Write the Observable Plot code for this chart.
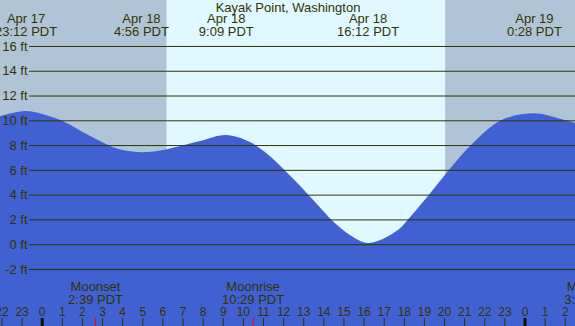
<!DOCTYPE html>
<html><head><meta charset="utf-8">
<script src="https://cdn.jsdelivr.net/npm/d3@7"></script>
<script src="https://cdn.jsdelivr.net/npm/@observablehq/plot@0.6"></script>
<style>
html,body{margin:0;padding:0;background:#fff;overflow:hidden}
#chart svg{display:block}
</style></head><body><div id="chart"></div>
<script>
const title = "Kayak Point, Washington";

// Tide curve: hours since Apr 18 00:00 PDT, height in feet
const tideHours = [-2.09, -0.8, 0.40, 1.24, 2.04, 2.89, 3.73, 4.93, 6.22, 7.86, 9.15, 10.35, 11.19, 11.99, 12.84, 13.68, 14.48, 15.32, 16.2, 16.97, 17.81, 18.21, 19.25, 20.25, 21.34, 22.83, 24.47, 25.77, 26.52];
const tideFeet  = [10.32, 10.75, 10.32, 9.78, 9.06, 8.33, 7.72, 7.42, 7.67, 8.32, 8.81, 8.25, 7.32, 6.11, 4.72, 3.24, 1.85, 0.75, 0.1, 0.43, 1.28, 2.0, 4.0, 6.0, 8.0, 10.0, 10.57, 10.13, 9.78];

// High / low tide labels
const extremeDays  = ["Apr 17", "Apr 18", "Apr 18", "Apr 18", "Apr 19"];
const extremeTimes = ["23:12", "4:56", "9:09", "16:12", "0:28"];
const extremeDayOffsets = [-24, 0, 0, 0, 24];

// Sun
const sunriseTime = "6:13";
const sunsetTime = "20:03";

// Moon events
const moonNames = ["Moonset", "Moonrise", "Moonset"];
const moonTimes = ["2:39", "10:29", "3:19"];
const moonDayOffsets = [0, 0, 24];

// Axis ticks
const yTicks = [-2, 0, 2, 4, 6, 8, 10, 12, 14, 16];
const hourTicks = d3.range(-2, 27);

const toHours = (t, off = 0) => { const [h, m] = t.split(":").map(Number); return off + h + m / 60; };
const mod24 = h => ((h % 24) + 24) % 24;

const tide = tideHours.map((h, i) => ({h, ft: tideFeet[i]}));
const extremes = extremeTimes.map((t, i) => ({h: toHours(t, extremeDayOffsets[i]), day: extremeDays[i], time: t}));
const moons = moonTimes.map((t, i) => ({h: toHours(t, moonDayOffsets[i]), name: moonNames[i], time: t}));

const xDomain = [-2.073, 26.510];
const yDomain = [-6.602, 19.709];
const sunrise = toHours(sunriseTime), sunset = toHours(sunsetTime);
const nightBands = [{x1: xDomain[0], x2: sunrise}, {x1: sunset, x2: xDomain[1]}];
const dayBands = [{x1: sunrise, x2: sunset}];

const ink = "#333300";

const chart = Plot.plot({
  width: 575,
  height: 326,
  margin: 0,
  x: {type: "linear", domain: xDomain, axis: null},
  y: {type: "linear", domain: yDomain, axis: null},
  style: {fontFamily: "'Liberation Sans', Arial, sans-serif", fontSize: "13px", background: "#fff"},
  marks: [
    Plot.rect(nightBands, {x1: "x1", x2: "x2", y1: yDomain[0], y2: yDomain[1], fill: "#b0c4d8"}),
    Plot.rect(dayBands, {x1: "x1", x2: "x2", y1: yDomain[0], y2: yDomain[1], fill: "#e0f8ff"}),
    Plot.areaY(tide, {x: "h", y1: yDomain[0], y2: "ft", curve: "catmull-rom", fill: "#4161d3"}),
    Plot.ruleY(yTicks, {y: d => d, stroke: ink, strokeWidth: 1, insetLeft: 29}),
    Plot.text(yTicks, {y: d => d, text: d => `${d} ft`, frameAnchor: "left", textAnchor: "end", dx: 27, fill: ink, fontSize: 13}),
    Plot.text([title], {text: d => d, frameAnchor: "top", lineAnchor: "bottom", dy: 11, fill: ink, fontSize: 13}),
    Plot.text(extremes, {x: "h", text: d => `${d.day}\n${d.time} PDT`, frameAnchor: "top", lineAnchor: "bottom", lineHeight: 1, dy: 35.7, fill: ink, fontSize: 13}),
    Plot.ruleX(hourTicks.filter(h => mod24(h) !== 0), {x: d => d, insetTop: 318, stroke: ink, strokeWidth: 1}),
    Plot.ruleX(hourTicks.filter(h => mod24(h) === 0), {x: d => d, insetTop: 318, stroke: "#111100", strokeWidth: 3}),
    Plot.ruleX(moons, {x: "h", insetTop: 318, stroke: "red", strokeWidth: 1}),
    Plot.text(hourTicks, {x: d => d, text: d => String(mod24(d)), frameAnchor: "bottom", lineAnchor: "bottom", dy: -10.3, fill: ink, fontSize: 12}),
    Plot.text(moons, {x: "h", text: d => `${d.name}\n${d.time} PDT`, frameAnchor: "bottom", lineAnchor: "bottom", lineHeight: 1, dy: -22.7, fill: ink, fontSize: 13})
  ]
});
document.getElementById("chart").appendChild(chart);
</script>
</body></html>
